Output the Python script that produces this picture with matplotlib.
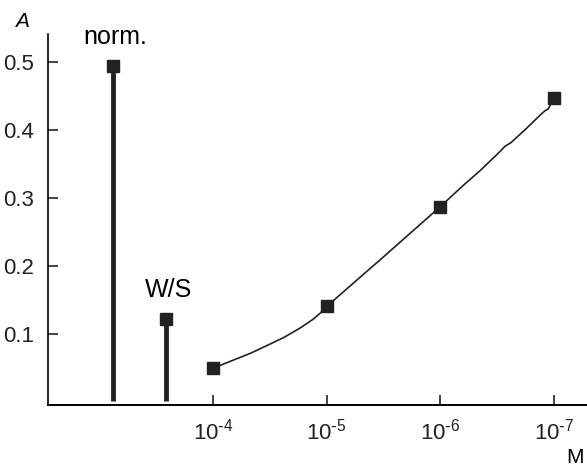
import numpy as np
import matplotlib.pyplot as plt
import matplotlib

matplotlib.rcParams['font.family'] = 'Liberation Sans'
matplotlib.rcParams['mathtext.default'] = 'regular'

# concentration ticks (x = -log10 M)
conc_pos = [4, 5, 6, 7]
conc_labels = ['10$^{\\text{-}4}$', '10$^{\\text{-}5}$', '10$^{\\text{-}6}$', '10$^{\\text{-}7}$']
conc_A = [0.049, 0.140, 0.287, 0.447]

# curve through the measured points
curve_x = [4.0, 4.18, 4.33, 4.47, 4.62, 4.765, 4.88, 4.95, 5.0, 5.5, 6.0, 6.2, 6.35, 6.5, 6.57, 6.62,
           6.75, 6.88, 6.92, 6.95, 7.0]
curve_y = [0.049, 0.061, 0.071, 0.082, 0.094, 0.108, 0.121, 0.131, 0.140, 0.213, 0.287, 0.318, 0.340,
           0.364, 0.376, 0.381, 0.401, 0.422, 0.428, 0.431, 0.447]

# reference bars
bar_pos = [3.12, 3.59]
bar_A = [0.494, 0.122]
bar_names = ['norm.', 'W/S']

fig = plt.figure(figsize=(5.87, 4.67), dpi=100)
ax = fig.add_axes([0.082, 0.133, 0.918, 0.794])
ax.spines['top'].set_visible(False)
ax.spines['right'].set_visible(False)
ax.spines['left'].set_linewidth(1.2)
ax.spines['bottom'].set_linewidth(1.4)

ax.plot(curve_x, curve_y, color='#222222', linewidth=1.2)
ax.plot(conc_pos, conc_A, 's', color='#222222', markersize=8)

for xb, yb, name in zip(bar_pos, bar_A, bar_names):
    ax.plot([xb, xb], [0, yb], color='#222222', linewidth=3.5, solid_capstyle='butt')
    ax.plot(xb, yb, 's', color='#222222', markersize=8)
    ax.text(xb + 0.02, yb + 0.025, name, fontsize=18, ha='center', va='bottom')

ax.set_xlim(2.55, 7.29)
ax.set_ylim(-0.005, 0.541)
ax.set_xticks(conc_pos)
ax.set_xticklabels(conc_labels)
ax.set_yticks([0.1, 0.2, 0.3, 0.4, 0.5])
ax.set_yticklabels(['0.1', '0.2', '0.3', '0.4', '0.5'])
ax.tick_params(direction='in', length=7, width=1.2, labelsize=16, colors='#222222')
ax.tick_params(axis='y', pad=10)
ax.tick_params(axis='x', pad=10)

fig.text(0.037, 0.955, 'A', fontsize=15, style='italic', ha='center', va='center')
fig.text(0.98, 0.02, 'M', fontsize=15, ha='center', va='center')

plt.savefig('out.png', dpi=100)
